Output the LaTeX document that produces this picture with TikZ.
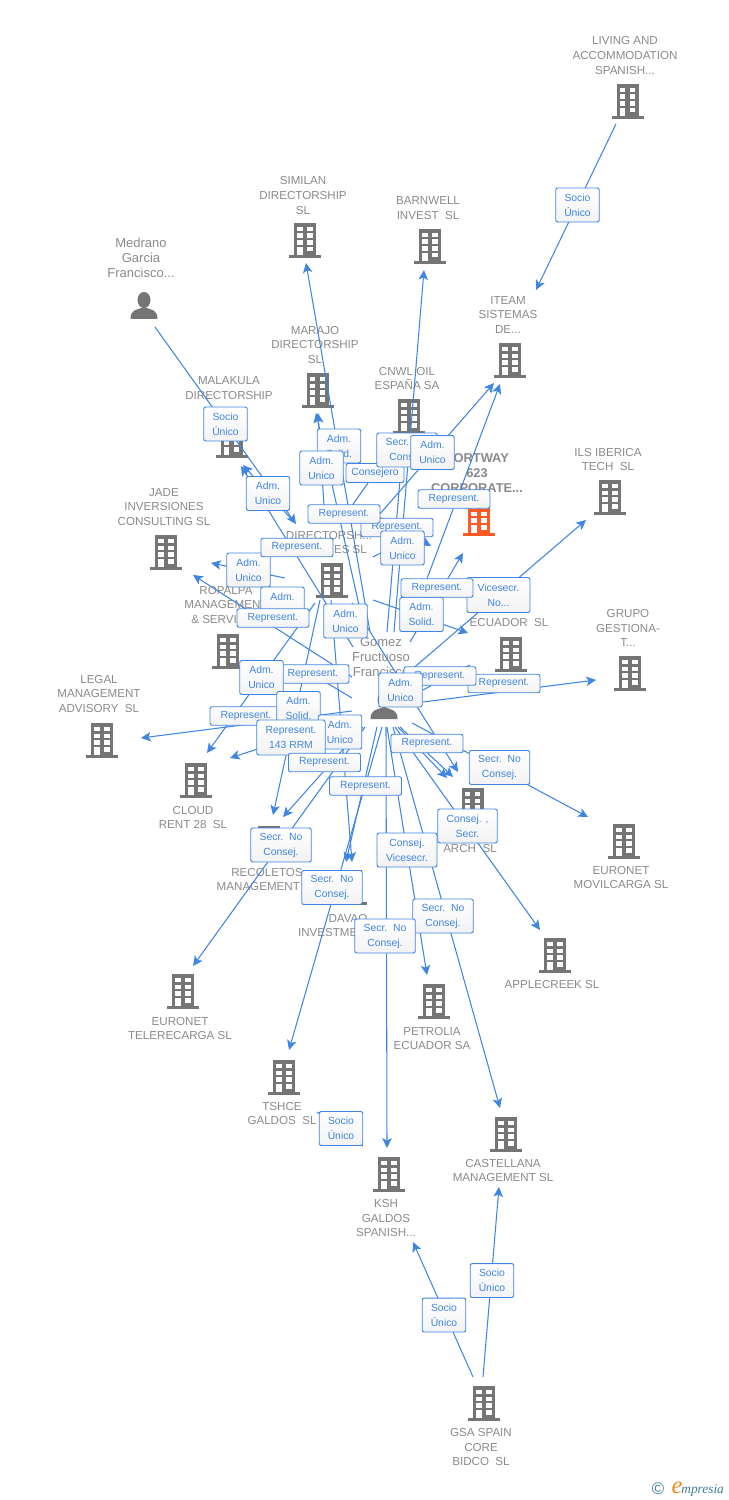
\documentclass[tikz,border=0pt]{standalone}
\usepackage{fontspec}
\setmainfont{Liberation Sans}
\newfontfamily\logofont{Liberation Serif}
\usetikzlibrary{arrows.meta}
\definecolor{linkblue}{HTML}{3F85E2}
\definecolor{namegray}{HTML}{8A8A8A}
\definecolor{icongray}{HTML}{757575}
\definecolor{iconred}{HTML}{FF5A26}
\definecolor{logoteal}{HTML}{3E7C96}
\definecolor{logoorange}{HTML}{F08A1E}
\tikzset{
	firm/.style={text=namegray,align=center,inner sep=0pt,font=\fontsize{6.6}{8.5}\selectfont},
	who/.style={firm,font=\fontsize{7.4}{8.5}\selectfont},
	link/.style={draw=linkblue,line width=0.6pt},
	linktip/.style={link,-{Stealth[length=5.6pt,width=5.4pt,inset=1.4pt]}},
	rolebox/.style={draw=linkblue,line width=0.55pt,rounded corners=1.2pt,top color=white,bottom color=black!5,text=linkblue,align=center,inner sep=0pt,font=\fontsize{5.9}{8.5}\selectfont},
	repbox/.style={rolebox,minimum width=1.44cm,minimum height=0.37cm},
	admbox/.style={rolebox,minimum width=0.87cm,minimum height=0.68cm},
	secrbox/.style={rolebox,minimum width=1.21cm,minimum height=0.68cm},
	pics/building/.style={code={
		\fill[#1] (-11,-17) rectangle (11,16);
		\fill[#1] (-16,15) rectangle (16,18);
		\foreach \cx in {-7.8,2.3}
			\foreach \cy in {-13.2,-6.5,0.2}
				\fill[white] (\cx,\cy) rectangle ++(5.5,4.6);
		\fill[white] (-7.8,6.9) rectangle (-2.3,15);
		\fill[white] (2.3,6.9) rectangle (7.8,11.5);
	}},
	pics/person/.style={code={
		\fill[icongray] (0,-6) ellipse (6.5 and 8);
		\fill[icongray] (-13.5,13) .. controls (-13.5,4) and (-8,4) .. (-3,2) -- (3,2) .. controls (8,4) and (13.5,4) .. (13.5,13) -- cycle;
	}}
}
\begin{document}
\begin{tikzpicture}[x=0.02cm,y=-0.02cm]
	\useasboundingbox (0,0) rectangle (728,1500);

	%buildings
	\pic at (627.5,101) {building=icongray};
	\pic at (305,240) {building=icongray};
	\pic at (430,246) {building=icongray};
	\pic at (510,360) {building=icongray};
	\pic at (317.5,390) {building=icongray};
	\pic at (409,416) {building=icongray};
	\pic at (231.5,440) {building=icongray};
	\pic at (479,518) {building=iconred};
	\pic at (610,497) {building=icongray};
	\pic at (166,552) {building=icongray};
	\pic at (332,580) {building=icongray};
	\pic at (228,651) {building=icongray};
	\pic at (511,654) {building=icongray};
	\pic at (630,673) {building=icongray};
	\pic at (102,740) {building=icongray};
	\pic at (196,780) {building=icongray};
	\pic at (472.5,805) {building=icongray};
	\pic at (624,841) {building=icongray};
	\pic at (269,843) {building=icongray};
	\pic at (351,887) {building=icongray};
	\pic at (555,955) {building=icongray};
	\pic at (183,991) {building=icongray};
	\pic at (434,1001) {building=icongray};
	\pic at (284,1077) {building=icongray};
	\pic at (506,1134) {building=icongray};
	\pic at (389,1174) {building=icongray};
	\pic at (484,1403) {building=icongray};

	%people
	\pic at (144,306) {person};
	\pic at (384,706) {person};

	%names
	\node[firm] (living) at (625,55.5) {LIVING AND\\ACCOMMODATION\\SPANISH...};
	\node[firm] (similan) at (303,195.5) {SIMILAN\\DIRECTORSHIP\\SL};
	\node[firm] (barnwell) at (428,208.5) {BARNWELL\\INVEST\ \ SL};
	\node[who] (medrano) at (141,258) {Medrano\\Garcia\\Francisco...};
	\node[firm] (iteam) at (508,315) {ITEAM\\SISTEMAS\\DE...};
	\node[firm] (marajo) at (315,345) {MARAJO\\DIRECTORSHIP\\SL};
	\node[firm] (cnwl) at (407,378.5) {CNWL OIL\\ESPAÑA SA};
	\node[firm] (malakula) at (229,388.5) {MALAKULA\\DIRECTORSHIP};
	\node[firm,font=\fontsize{7.3}{8.5}\selectfont\bfseries] (portway) at (477,473) {PORTWAY\\623\\CORPORATE...};
	\node[firm] (ils) at (608,459.5) {ILS IBERICA\\TECH\ \ SL};
	\node[firm] (jade) at (164,507) {JADE\\INVERSIONES\\CONSULTING SL};
	\node[firm] (directorsh) at (329,542.5) {DIRECTORSH...\\SERVICES SL};
	\node[firm] (ropalpa) at (226,605) {ROPALPA\\MANAGEMENT\\\& SERVICES};
	\node[firm] (ecuador) at (509,623) {ECUADOR\ \ SL};
	\node[firm] (grupo) at (628,628) {GRUPO\\GESTIONA-\\T...};
	\node[who] (gomez) at (381,657) {Gomez\\Fructuoso\\Francisco};
	\node[firm] (legal) at (99,694) {LEGAL\\MANAGEMENT\\ADVISORY\ \ SL};
	\node[firm] (cloud) at (193,817.5) {CLOUD\\RENT 28\ \ SL};
	\node[firm] (arch) at (470,849) {ARCH\ \ SL};
	\node[firm] (movilcarga) at (621,877.5) {EURONET\\MOVILCARGA SL};
	\node[firm] (recoletos) at (267,879.5) {RECOLETOS\\MANAGEMENT SL};
	\node[firm] (davao) at (348,925.5) {DAVAO\\INVESTMENTS SL};
	\node[firm] (applecreek) at (552,984) {APPLECREEK SL};
	\node[firm] (telerecarga) at (180,1028.5) {EURONET\\TELERECARGA SL};
	\node[firm] (petrolia) at (432,1038.5) {PETROLIA\\ECUADOR SA};
	\node[firm] (tshce) at (282,1113.5) {TSHCE\\GALDOS\ \ SL};
	\node[firm] (castellana) at (503,1170.5) {CASTELLANA\\MANAGEMENT SL};
	\node[firm] (ksh) at (386,1218) {KSH\\GALDOS\\SPANISH...};
	\node[firm] (gsa) at (481,1447) {GSA SPAIN\\CORE\\BIDCO\ \ SL};

	%conections with a tip
	\foreach \nam/\xa/\ya/\xb/\yb in {
		lividm/616/124/536/290, medr/155/327/296/524,
		gomsim/370/632/306/263, gombar/394/632/424/270,
		gommar/365/632/316/413, dirmar/325/521/318/413,
		gommal/353/647/241/466, dirmal/293/521/243/465,
		dirite/372/523/494/383, gomite/407/632/500/384,
		dirpor/363/508/431/546, gompor/410/642/463/553,
		gomils/410/671/586/520, direcu/373/600/468/633,
		gomgru/423/702/596/680, dirjad/285/578/211/563,
		gomrop/352/677/193/575, dirclo/315/603/207/753,
		gomleg/352/711/141/738, gomclo/352/718/230/758,
		dirrec/320/600/273/815, gomrec/363/727/283/817,
		gomtel/365/727/193/966, dirdav/331/600/352/862,
		gomdav/377/727/346/862, gomtsh/382/727/289/1050,
		gomksh/386/727/387/1148, gompet/387/727/427/975,
		gomcas/393/727/500/1108, gomapp/395/727/540/930,
		gommov/412/723/588/817, dirarc/352/603/458/772,
		gomarc/400/727/453/777, gomarb/398/727/447/778,
		gsaksh/473/1377/413/1242, gsacas/483/1377/499/1187}
	{
		\coordinate (\nam a) at (\xa,\ya);
		\coordinate (\nam b) at (\xb,\yb);
		\draw[linktip] (\nam a) -- (\nam b);
	}

	%conections that end behind a box
	\foreach \nam/\xa/\ya/\xb/\yb in {
		dircon/349/510/401/436, gomcnw/387/632/403/445,
		gomrep/352/698/305/670, gomecu/423/690/470/665,
		diradm/373/557/415/535, tshksh/317/1112/363/1146}
	{
		\coordinate (\nam a) at (\xa,\ya);
		\coordinate (\nam b) at (\xb,\yb);
		\draw[link] (\nam a) -- (\nam b);
	}

	%role boxes
	\node[admbox] (socliv) at (577.5,205) {Socio\\Único};
	\node[admbox] (socmed) at (225.5,424) {Socio\\Único};
	\node[admbox] (admsim) at (339,446) {Adm.\\Solid.};
	\node[rolebox,minimum width=1.16cm,minimum height=0.38cm] (consej) at (375,473) {Consejero};
	\node[admbox] (admmar) at (321.5,468) {Adm.\\Unico};
	\node[secrbox] (secbar) at (407,450) {Secr.\ \ No\\Consej.};
	\node[admbox] (admite) at (432.5,452.5) {Adm.\\Unico};
	\node[repbox] (repite) at (454,499) {Represent.};
	\node[admbox] (admmal) at (268,493.5) {Adm.\\Unico};
	\node[repbox] (repcnw) at (397,527.5) {Represent.};
	\node[repbox] (repmar) at (344,514) {Represent.};
	\node[admbox] (admpor) at (402.5,548) {Adm.\\Unico};
	\node[admbox] (admjad) at (248.5,570) {Adm.\\Unico};
	\node[repbox] (repmal) at (297,547.5) {Represent.};
	\node[admbox] (admrop) at (282.5,604) {Adm.\\\phantom{Unico}};
	\node[repbox] (reprop) at (273,618) {Represent.};
	\node[secrbox,minimum width=1.26cm,minimum height=0.7cm] (vicils) at (498.5,595) {Vicesecr.\\No...};
	\node[admbox] (admecu) at (421.5,614.5) {Adm.\\Solid.};
	\node[repbox] (reppor) at (437,588) {Represent.};
	\node[admbox] (admdir) at (345.5,621) {Adm.\\Unico};
	\node[repbox] (repgru) at (504,683.5) {Represent.};
	\node[repbox] (repecu) at (440,676) {Represent.};
	\node[admbox] (admarc) at (400.5,690) {Adm.\\Unico};
	\node[repbox] (repgom) at (313,674) {Represent.};
	\node[admbox] (admclo) at (261.5,677.5) {Adm.\\Unico};
	\node[repbox] (repleg) at (246,716) {Represent.};
	\node[admbox] (admrec) at (298.5,708.5) {Adm.\\Solid.};
	\node[admbox] (admdav) at (340,732) {Adm.\\Unico};
	\node[rolebox,minimum width=1.37cm,minimum height=0.7cm] (repclo) at (291,737.5) {Represent.\\143 RRM};
	\node[repbox] (reprec) at (324.5,762.5) {Represent.};
	\node[repbox] (repdav) at (365.5,786) {Represent.};
	\node[repbox] (reparc) at (427,743.5) {Represent.};
	\node[secrbox] (secmov) at (499.5,767.5) {Secr.\ \ No\\Consej.};
	\node[secrbox,minimum width=1.19cm] (conapp) at (467.5,826) {Consej. ,\\Secr.};
	\node[secrbox,minimum width=1.2cm] (conpet) at (407,850) {Consej.\\Vicesecr.};
	\node[secrbox] (sectel) at (281,845) {Secr.\ \ No\\Consej.};
	\node[secrbox] (sectsh) at (332,887.5) {Secr.\ \ No\\Consej.};
	\node[secrbox] (seccas) at (443,916) {Secr.\ \ No\\Consej.};
	\node[secrbox] (secksh) at (385,936) {Secr.\ \ No\\Consej.};
	\node[admbox] (soctsh) at (341,1128.5) {Socio\\Único};
	\node[admbox] (soccas) at (492,1280.5) {Socio\\Único};
	\node[admbox] (socksh) at (444,1315) {Socio\\Único};

	%logo
	\node[text=logoteal,inner sep=0pt,font=\fontsize{9.5}{9.5}\selectfont] (copyr) at (658,1489) {©};
	\node[text=logoorange,inner sep=0pt,font=\logofont\itshape\fontsize{14}{14}\selectfont] (logoe) at (677,1488) {e};
	\node[text=logoteal,inner sep=0pt,anchor=west,font=\logofont\itshape\fontsize{7.6}{8}\selectfont] (logot) at (681,1490) {mpresia};
\end{tikzpicture}
\end{document}
